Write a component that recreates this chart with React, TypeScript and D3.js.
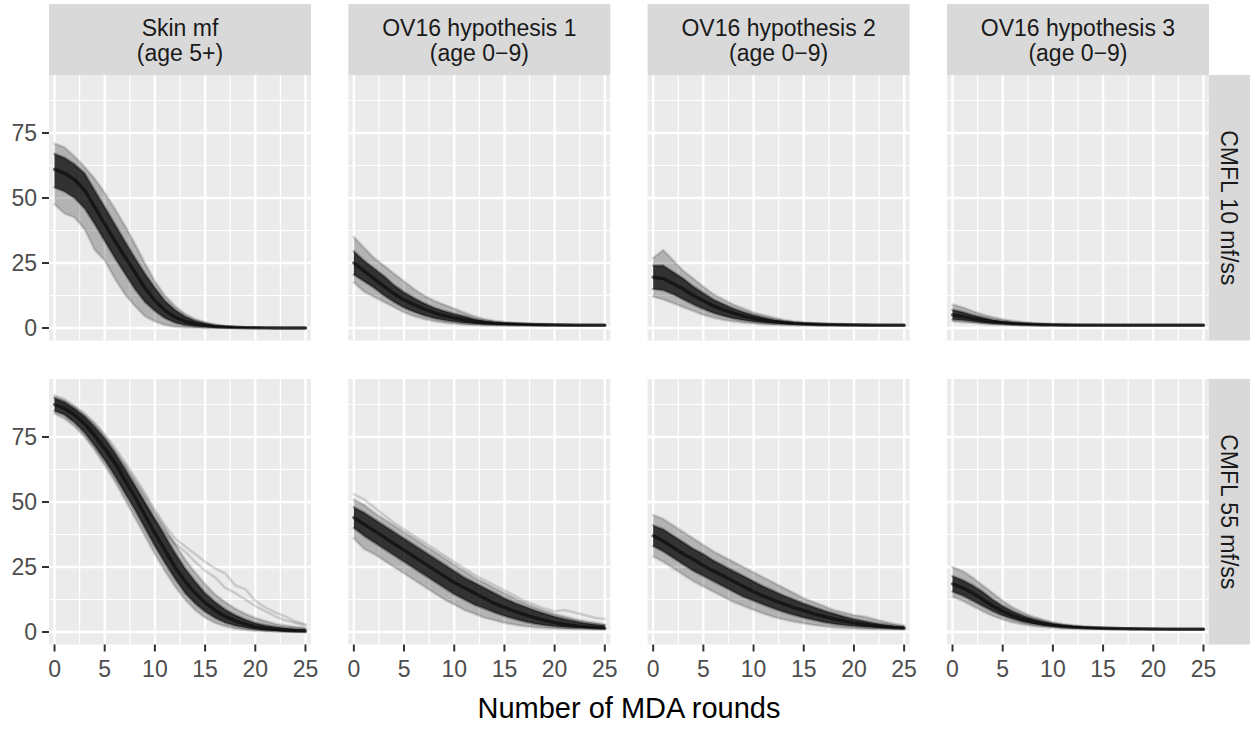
import React from "react";
import * as d3 from "d3";

// ---------- data ----------
const ROUNDS = [0, 1, 2, 3, 4, 5, 6, 7, 8, 9, 10, 11, 12, 13, 14, 15, 16, 17, 18, 19, 20, 21, 22, 23, 24, 25];
const X_BREAKS = [0, 5, 10, 15, 20, 25];
const X_MINOR = [2.5, 7.5, 12.5, 17.5, 22.5];
const Y_BREAKS = [0, 25, 50, 75];
const Y_MINOR = [12.5, 37.5, 62.5, 87.5];
const COLUMN_LABELS = [
  ["Skin mf", "(age 5+)"],
  ["OV16 hypothesis 1", "(age 0\u22129)"],
  ["OV16 hypothesis 2", "(age 0\u22129)"],
  ["OV16 hypothesis 3", "(age 0\u22129)"],
];
const ROW_LABELS = ["CMFL 10 mf/ss", "CMFL 55 mf/ss"];
const X_TITLE = "Number of MDA rounds";

// Row 1: CMFL 10 mf/ss
const skin10Max = [71, 69.5, 66, 62, 57.5, 52, 46, 39.5, 32.5, 25, 18, 12.5, 8.5, 5.5, 3.5, 2.2, 1.3, 0.8, 0.5, 0.3, 0.2, 0.1, 0.05, 0, 0, 0];
const skin10Q90 = [67, 65.5, 63, 59.5, 53, 46.5, 40, 33.5, 27, 21, 15.5, 10.5, 7, 4.5, 2.8, 1.8, 1.1, 0.7, 0.45, 0.3, 0.2, 0.1, 0.05, 0, 0, 0];
const skin10Med = [61, 59.5, 57, 53, 46.5, 40, 33.5, 27.5, 21.5, 15.5, 10.5, 6.8, 4.2, 2.6, 1.6, 1.0, 0.6, 0.4, 0.25, 0.15, 0.1, 0.05, 0, 0, 0, 0];
const skin10Q10 = [54, 52.5, 50, 46, 40, 33.5, 27, 21, 15, 10, 6.5, 3.8, 2.0, 1.1, 0.6, 0.35, 0.2, 0.1, 0.05, 0, 0, 0, 0, 0, 0, 0];
const skin10Min = [47.5, 44, 42.5, 38, 30, 26, 19, 13, 8.5, 4.5, 2.5, 1.2, 0.5, 0.2, 0.1, 0, 0, 0, 0, 0, 0, 0, 0, 0, 0, 0];

const hyp1_10Max = [35, 31, 27, 24, 21, 18, 15, 12.5, 10.5, 9, 7.5, 6, 4.5, 3.5, 2.8, 2.3, 2.0, 1.8, 1.6, 1.5, 1.4, 1.3, 1.2, 1.2, 1.1, 1.1];
const hyp1_10Q90 = [29.5, 26, 23, 20, 16.5, 13.8, 11.5, 9.5, 7.8, 6.5, 5.5, 4.5, 3.5, 2.8, 2.3, 2.0, 1.8, 1.6, 1.5, 1.4, 1.3, 1.2, 1.15, 1.1, 1.1, 1.1];
const hyp1_10Med = [25, 22, 19, 16, 13.2, 10.8, 9, 7.3, 5.9, 4.8, 3.9, 3.1, 2.5, 2.1, 1.8, 1.6, 1.5, 1.4, 1.3, 1.25, 1.2, 1.15, 1.1, 1.1, 1.1, 1.1];
const hyp1_10Q10 = [20.5, 18, 15.5, 12.5, 10, 7.8, 6.2, 4.8, 3.8, 3.0, 2.4, 1.9, 1.6, 1.4, 1.25, 1.15, 1.1, 1.05, 1.0, 1.0, 1.0, 1.0, 1.0, 1.0, 1.0, 1.0];
const hyp1_10Min = [17.5, 14, 12, 10, 8, 6, 4.5, 3.5, 2.6, 2.0, 1.6, 1.3, 1.2, 1.1, 1.0, 1.0, 1.0, 1.0, 1.0, 1.0, 1.0, 1.0, 1.0, 1.0, 1.0, 1.0];

const hyp2_10Max = [27, 30, 26, 22, 19, 16, 13, 11, 9, 7.5, 6, 5, 4, 3.2, 2.6, 2.2, 1.9, 1.7, 1.6, 1.5, 1.4, 1.3, 1.2, 1.2, 1.1, 1.1];
const hyp2_10Q90 = [24, 24, 21.5, 19, 16, 13.5, 11, 9.2, 7.5, 6.2, 5, 4, 3.2, 2.6, 2.2, 1.9, 1.7, 1.55, 1.45, 1.35, 1.3, 1.2, 1.15, 1.1, 1.1, 1.1];
const hyp2_10Med = [19.5, 19, 17, 15, 12.5, 10.5, 8.5, 7, 5.7, 4.6, 3.7, 3.0, 2.5, 2.1, 1.8, 1.6, 1.45, 1.35, 1.3, 1.25, 1.2, 1.15, 1.1, 1.1, 1.1, 1.1];
const hyp2_10Q10 = [15, 14.5, 13, 11, 9, 7.3, 5.8, 4.6, 3.7, 3.0, 2.4, 2.0, 1.7, 1.5, 1.35, 1.25, 1.15, 1.1, 1.05, 1.0, 1.0, 1.0, 1.0, 1.0, 1.0, 1.0];
const hyp2_10Min = [12, 11, 9.5, 8, 6.5, 5, 4, 3.1, 2.5, 2, 1.7, 1.4, 1.25, 1.15, 1.1, 1.0, 1.0, 1.0, 1.0, 1.0, 1.0, 1.0, 1.0, 1.0, 1.0, 1.0];

const hyp3_10Max = [9, 8, 6.5, 5.2, 4.2, 3.4, 2.8, 2.3, 2.0, 1.8, 1.6, 1.5, 1.4, 1.3, 1.25, 1.2, 1.15, 1.1, 1.1, 1.1, 1.1, 1.1, 1.1, 1.1, 1.1, 1.1];
const hyp3_10Q90 = [7, 6.2, 5.0, 4.0, 3.2, 2.6, 2.2, 1.9, 1.6, 1.45, 1.35, 1.25, 1.2, 1.15, 1.1, 1.1, 1.1, 1.1, 1.1, 1.1, 1.1, 1.1, 1.1, 1.1, 1.1, 1.1];
const hyp3_10Med = [5, 4.5, 3.6, 2.9, 2.4, 2.0, 1.7, 1.5, 1.35, 1.25, 1.2, 1.15, 1.1, 1.1, 1.1, 1.1, 1.1, 1.1, 1.1, 1.1, 1.1, 1.1, 1.1, 1.1, 1.1, 1.1];
const hyp3_10Q10 = [3.3, 3.0, 2.5, 2.0, 1.7, 1.5, 1.3, 1.2, 1.15, 1.1, 1.05, 1.0, 1.0, 1.0, 1.0, 1.0, 1.0, 1.0, 1.0, 1.0, 1.0, 1.0, 1.0, 1.0, 1.0, 1.0];
const hyp3_10Min = [2.5, 2.2, 1.9, 1.6, 1.4, 1.25, 1.15, 1.1, 1.05, 1.0, 1.0, 1.0, 1.0, 1.0, 1.0, 1.0, 1.0, 1.0, 1.0, 1.0, 1.0, 1.0, 1.0, 1.0, 1.0, 1.0];

// Row 2: CMFL 55 mf/ss
const skin55OutA = [91, 89.5, 87, 84, 80.5, 76, 71, 65.5, 59.5, 53.5, 47, 41, 36, 33, 30, 27, 24.5, 22.5, 18, 16.5, 12, 9.5, 7.5, 6, 4, 3];
const skin55OutB = [89, 87.5, 85, 81.5, 77, 72, 66.5, 61, 55, 49, 43, 38, 34, 31, 27, 23.5, 21, 17, 15, 12.5, 10, 8, 6, 4.5, 3.5, 2.5];
const skin55Max = [90.5, 89, 86.5, 83.5, 80, 75.5, 70, 64.5, 58.5, 52.5, 46, 40, 34, 28, 23, 18.5, 14.5, 11.5, 9, 7, 5.5, 4.2, 3.2, 2.5, 2, 1.6];
const skin55Q90 = [90, 88.5, 86, 83, 79, 74.5, 69, 63, 56.5, 50, 43.5, 37, 30.5, 24.5, 19.5, 15, 11.5, 8.7, 6.5, 4.8, 3.5, 2.6, 2, 1.5, 1.2, 1.0];
const skin55Med = [87.5, 86, 83.5, 80, 75.5, 70.5, 65, 58.5, 52, 45, 38, 31.5, 25, 19.5, 15, 11.3, 8.3, 6, 4.3, 3, 2, 1.4, 1, 0.7, 0.5, 0.4];
const skin55Q10 = [85, 83.5, 80.5, 76.5, 71.5, 66, 60, 53.5, 47, 40, 33, 26.5, 20.5, 15, 11, 7.8, 5.4, 3.6, 2.4, 1.6, 1.0, 0.6, 0.4, 0.2, 0.1, 0.1];
const skin55Min = [84, 82, 79, 75, 70, 64, 58, 51, 44, 37, 30, 23.5, 17.5, 12.5, 8.5, 5.5, 3.5, 2.2, 1.3, 0.8, 0.5, 0.3, 0.2, 0.1, 0, 0];

const hyp1_55OutA = [53, 51, 48, 45, 42, 39.5, 37, 34.5, 32, 29.5, 27, 24.5, 22, 20, 18, 16, 14, 12, 10.5, 9, 8, 8.5, 7.5, 6.5, 5.5, 5];
const hyp1_55Max = [51, 49, 46, 43.5, 41, 38.5, 36, 33.5, 31, 28.5, 26, 23.5, 21, 19, 17, 15, 13, 11.2, 9.6, 8.2, 7, 6, 5, 4.2, 3.6, 3];
const hyp1_55Q90 = [48, 46, 43.5, 41, 38.5, 36, 33.5, 31, 28.5, 26, 23.5, 21, 19, 17, 15, 13, 11.3, 9.8, 8.4, 7.1, 6, 5, 4.2, 3.5, 3, 2.5];
const hyp1_55Med = [44, 41.5, 39, 36.5, 34, 31.5, 29, 26.5, 24, 21.5, 19, 17, 15, 13, 11, 9.5, 8, 6.7, 5.5, 4.5, 3.6, 2.9, 2.4, 2.0, 1.7, 1.5];
const hyp1_55Q10 = [40, 37, 34.5, 32, 29.5, 27, 24.5, 22, 19.5, 17, 14.5, 12.5, 10.5, 9, 7.5, 6.2, 5, 4, 3.2, 2.6, 2.1, 1.8, 1.6, 1.5, 1.4, 1.3];
const hyp1_55Min = [36, 32, 30, 27.5, 25, 22.5, 20, 17.5, 15, 12.5, 10.5, 8.5, 7, 5.5, 4.5, 3.5, 2.8, 2.2, 1.8, 1.5, 1.3, 1.2, 1.1, 1.1, 1.0, 1.0];

const hyp2_55Max = [45, 43.5, 41, 38.5, 36, 33.5, 31, 29, 27, 25, 23, 21, 19, 17, 15, 13, 11.5, 10, 8.5, 7.5, 6.5, 6, 5, 4, 3.2, 2.5];
const hyp2_55Q90 = [41, 39.5, 37, 34.5, 32, 30, 27.5, 25.5, 23.5, 21.5, 19.5, 17.5, 15.8, 14, 12.5, 11, 9.6, 8.3, 7.1, 6, 5, 4.2, 3.5, 2.9, 2.4, 2.0];
const hyp2_55Med = [37, 35, 32.5, 30, 28, 25.5, 23.5, 21.5, 19.5, 17.5, 15.5, 13.8, 12.2, 10.8, 9.4, 8.2, 7, 6, 5, 4.2, 3.5, 2.9, 2.4, 2, 1.7, 1.5];
const hyp2_55Q10 = [33, 31, 28.5, 26, 23.5, 21.5, 19.5, 17.5, 15.5, 13.5, 12, 10.5, 9, 7.7, 6.5, 5.5, 4.6, 3.8, 3.1, 2.6, 2.2, 1.9, 1.7, 1.5, 1.4, 1.3];
const hyp2_55Min = [29, 27, 24.5, 22, 19.5, 17.5, 15.5, 13.5, 11.5, 10, 8.5, 7, 5.8, 4.8, 4, 3.3, 2.7, 2.2, 1.8, 1.5, 1.3, 1.2, 1.1, 1.1, 1.0, 1.0];

const hyp3_55Max = [25, 23.5, 21, 18, 15, 12, 9.5, 7.5, 6, 4.8, 3.8, 3.1, 2.6, 2.2, 1.9, 1.7, 1.55, 1.45, 1.35, 1.3, 1.25, 1.2, 1.15, 1.1, 1.1, 1.1];
const hyp3_55Q90 = [21.5, 20, 18, 15.5, 12.5, 10, 8, 6.4, 5.1, 4.1, 3.3, 2.7, 2.3, 2.0, 1.8, 1.6, 1.5, 1.4, 1.3, 1.25, 1.2, 1.15, 1.1, 1.1, 1.1, 1.1];
const hyp3_55Med = [18.5, 17, 15, 12.5, 10, 8, 6.3, 5, 4, 3.2, 2.6, 2.2, 1.9, 1.7, 1.55, 1.45, 1.35, 1.3, 1.25, 1.2, 1.15, 1.1, 1.1, 1.1, 1.1, 1.1];
const hyp3_55Q10 = [15.5, 14, 12, 10, 8, 6.3, 5, 3.9, 3.1, 2.5, 2.1, 1.8, 1.6, 1.45, 1.35, 1.25, 1.2, 1.15, 1.1, 1.1, 1.05, 1.05, 1.0, 1.0, 1.0, 1.0];
const hyp3_55Min = [13.5, 12, 10, 8, 6.2, 4.8, 3.7, 2.9, 2.3, 1.9, 1.6, 1.4, 1.3, 1.2, 1.15, 1.1, 1.05, 1.0, 1.0, 1.0, 1.0, 1.0, 1.0, 1.0, 1.0, 1.0];

// panel table built from the arrays
type Panel = { row: number; col: number; max: number[]; q90: number[]; med: number[]; q10: number[]; min: number[]; extra: number[][] };
const PANELS: Panel[] = [
  { row: 0, col: 0, max: skin10Max, q90: skin10Q90, med: skin10Med, q10: skin10Q10, min: skin10Min, extra: [] },
  { row: 0, col: 1, max: hyp1_10Max, q90: hyp1_10Q90, med: hyp1_10Med, q10: hyp1_10Q10, min: hyp1_10Min, extra: [] },
  { row: 0, col: 2, max: hyp2_10Max, q90: hyp2_10Q90, med: hyp2_10Med, q10: hyp2_10Q10, min: hyp2_10Min, extra: [] },
  { row: 0, col: 3, max: hyp3_10Max, q90: hyp3_10Q90, med: hyp3_10Med, q10: hyp3_10Q10, min: hyp3_10Min, extra: [] },
  { row: 1, col: 0, max: skin55Max, q90: skin55Q90, med: skin55Med, q10: skin55Q10, min: skin55Min, extra: [skin55OutA, skin55OutB] },
  { row: 1, col: 1, max: hyp1_55Max, q90: hyp1_55Q90, med: hyp1_55Med, q10: hyp1_55Q10, min: hyp1_55Min, extra: [hyp1_55OutA] },
  { row: 1, col: 2, max: hyp2_55Max, q90: hyp2_55Q90, med: hyp2_55Med, q10: hyp2_55Q10, min: hyp2_55Min, extra: [] },
  { row: 1, col: 3, max: hyp3_55Max, q90: hyp3_55Q90, med: hyp3_55Med, q10: hyp3_55Q10, min: hyp3_55Min, extra: [] },
];

// ---------- layout ----------
const W = 1255;
const H = 746;
const PLOT_LEFT = 49;
const PANEL_W = 262;
const GAP_X = 37.33;
const ROW_TOP = [75, 379];
const PANEL_H = 265.5;
const STRIP_TOP = 4;
const RSTRIP_W = 41;
const FONT = "'Liberation Sans', Arial, Helvetica, sans-serif";

const colLeft = (c: number) => PLOT_LEFT + c * (PANEL_W + GAP_X);
const PLOT_RIGHT = colLeft(3) + PANEL_W;

const x = d3.scaleLinear().domain([-0.55, 25.55]).range([0, PANEL_W]);
const y = d3.scaleLinear().domain([-4.8, 97.3]).range([PANEL_H, 0]);

const lineGen = d3
  .line<number>()
  .x((_, i) => x(ROUNDS[i]))
  .y((d) => y(d));

const bandGen = (lo: number[], hi: number[]) =>
  d3
    .area<number>()
    .x((_, i) => x(ROUNDS[i]))
    .y0((_, i) => y(lo[i]))
    .y1((_, i) => y(hi[i]))(ROUNDS) as string;

function PanelView({ p }: { p: Panel }) {
  const left = colLeft(p.col);
  const top = ROW_TOP[p.row];
  const clipId = `clip-${p.row}-${p.col}`;
  const line = (s: number[], key: string, op: number, w: number) => (
    <path key={key} d={lineGen(s) as string} fill="none" stroke="#000" strokeOpacity={op} strokeWidth={w} strokeLinejoin="round" strokeLinecap="round" />
  );
  return (
    <g transform={`translate(${left},${top})`}>
      <clipPath id={clipId}>
        <rect x={0} y={0} width={PANEL_W} height={PANEL_H} />
      </clipPath>
      <rect x={0} y={0} width={PANEL_W} height={PANEL_H} fill="#EBEBEB" />
      {Y_MINOR.map((v) => (
        <line key={`ym${v}`} x1={0} x2={PANEL_W} y1={y(v)} y2={y(v)} stroke="#FFFFFF" strokeWidth={1.2} />
      ))}
      {X_MINOR.map((v) => (
        <line key={`xm${v}`} x1={x(v)} x2={x(v)} y1={0} y2={PANEL_H} stroke="#FFFFFF" strokeWidth={1.2} />
      ))}
      {Y_BREAKS.map((v) => (
        <line key={`yM${v}`} x1={0} x2={PANEL_W} y1={y(v)} y2={y(v)} stroke="#FFFFFF" strokeWidth={2.4} />
      ))}
      {X_BREAKS.map((v) => (
        <line key={`xM${v}`} x1={x(v)} x2={x(v)} y1={0} y2={PANEL_H} stroke="#FFFFFF" strokeWidth={2.4} />
      ))}
      <g clipPath={`url(#${clipId})`}>
        <path d={bandGen(p.min, p.max)} fill="#000" fillOpacity={0.24} />
        <path d={bandGen(p.q10, p.q90)} fill="#000" fillOpacity={0.72} />
        {[p.max, p.min, ...p.extra].map((s, i) => line(s, `o${i}`, 0.14, 2.6))}
        {[p.q90, p.q10].map((s, i) => line(s, `q${i}`, 0.3, 2.6))}
        {line(p.med, "med", 0.55, 3.4)}
      </g>
    </g>
  );
}

export default function App() {
  return (
    <svg width={W} height={H} viewBox={`0 0 ${W} ${H}`} style={{ position: "absolute", left: 0, top: 0, background: "#fff" }} fontFamily={FONT}>
      <rect x={0} y={0} width={W} height={H} fill="#FFFFFF" />
      {COLUMN_LABELS.map((lines, c) => (
        <g key={`cs${c}`}>
          <rect x={colLeft(c)} y={STRIP_TOP} width={PANEL_W} height={ROW_TOP[0] - STRIP_TOP} fill="#D9D9D9" />
          <text x={colLeft(c) + PANEL_W / 2} y={36} textAnchor="middle" fontSize={23} fill="#1A1A1A">
            {lines[0]}
          </text>
          <text x={colLeft(c) + PANEL_W / 2} y={61} textAnchor="middle" fontSize={23} fill="#1A1A1A">
            {lines[1]}
          </text>
        </g>
      ))}
      {ROW_LABELS.map((lab, r) => (
        <g key={`rs${r}`}>
          <rect x={PLOT_RIGHT} y={ROW_TOP[r]} width={RSTRIP_W} height={PANEL_H} fill="#D9D9D9" />
          <text
            transform={`translate(${PLOT_RIGHT + RSTRIP_W / 2},${ROW_TOP[r] + PANEL_H / 2}) rotate(90)`}
            textAnchor="middle"
            dy="0.35em"
            fontSize={23}
            fill="#1A1A1A"
          >
            {lab}
          </text>
        </g>
      ))}
      {PANELS.map((p) => (
        <PanelView key={`p${p.row}${p.col}`} p={p} />
      ))}
      {ROW_TOP.map((top, r) => (
        <g key={`ya${r}`} transform={`translate(${PLOT_LEFT},${top})`}>
          {Y_BREAKS.map((v) => (
            <g key={v}>
              <line x1={-7} x2={0} y1={y(v)} y2={y(v)} stroke="#333333" strokeWidth={2} />
              <text x={-12} y={y(v)} dy="0.36em" textAnchor="end" fontSize={23} fill="#4D4D4D">
                {v}
              </text>
            </g>
          ))}
        </g>
      ))}
      {[0, 1, 2, 3].map((c) => (
        <g key={`xa${c}`} transform={`translate(${colLeft(c)},${ROW_TOP[1] + PANEL_H})`}>
          {X_BREAKS.map((v) => (
            <g key={v}>
              <line x1={x(v)} x2={x(v)} y1={0} y2={7} stroke="#333333" strokeWidth={2} />
              <text x={x(v)} y={32} textAnchor="middle" fontSize={23} fill="#4D4D4D">
                {v}
              </text>
            </g>
          ))}
        </g>
      ))}
      <text x={(PLOT_LEFT + PLOT_RIGHT) / 2} y={718} textAnchor="middle" fontSize={29} fill="#000000">
        {X_TITLE}
      </text>
    </svg>
  );
}
